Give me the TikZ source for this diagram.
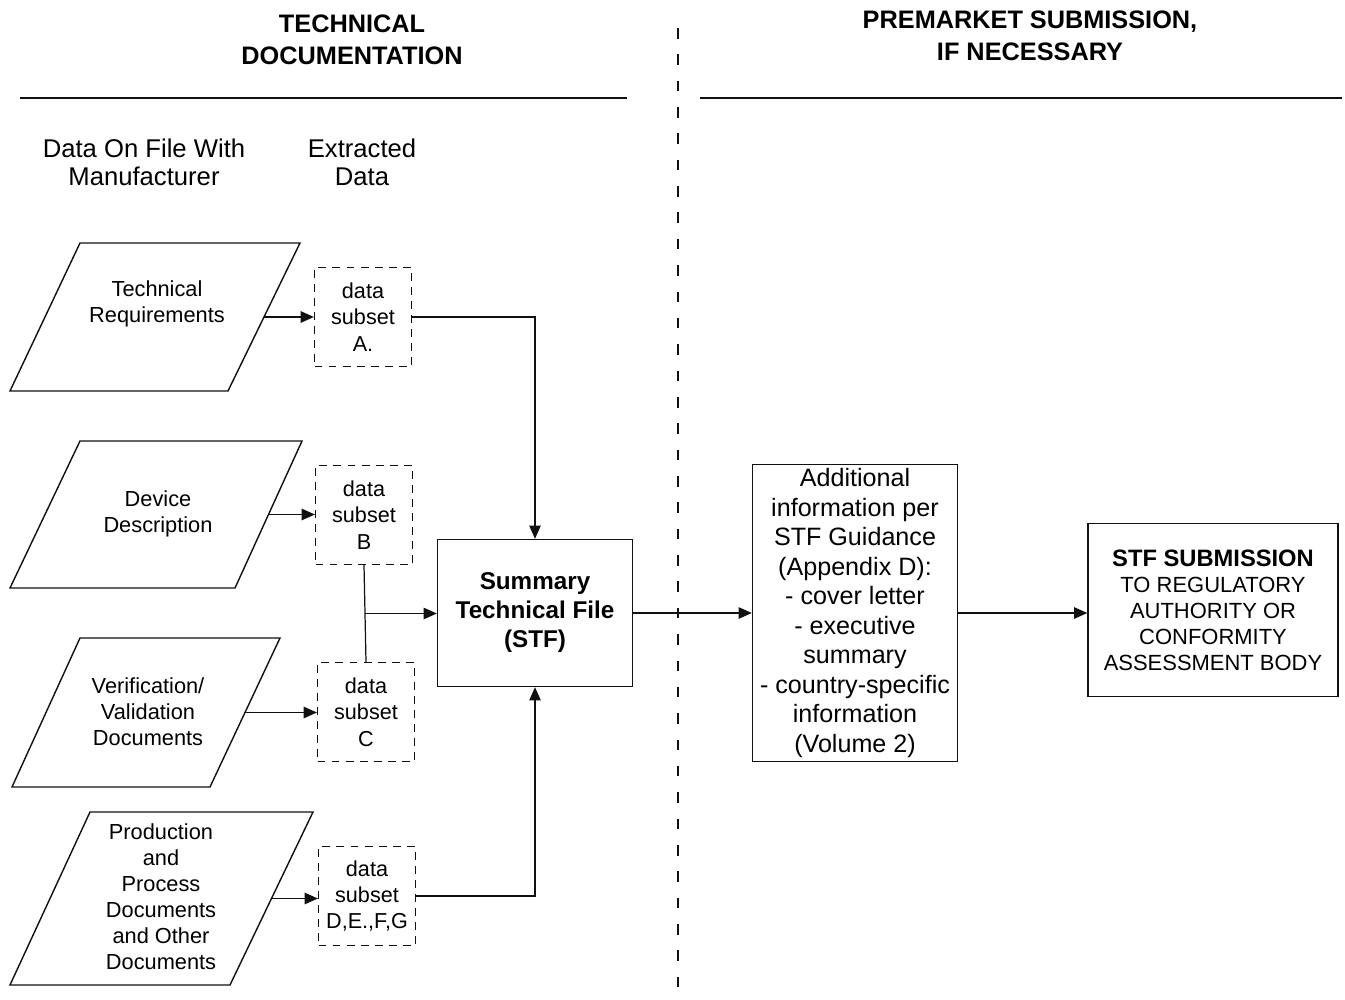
\documentclass[tikz,border=0pt]{standalone}
\usepackage{fontspec}
\setmainfont{Liberation Sans}
\usetikzlibrary{arrows.meta,positioning,calc}
\definecolor{Ink}{HTML}{111111}
\tikzset{
  docshape/.style={draw=Ink,line width=.8pt,line join=miter},
  doctext/.style={align=center,inner sep=0pt,font=\fontsize{12.4}{14.8}\selectfont},
  subset/.style={draw=Ink,dash pattern=on 4.5pt off 3.5pt,line width=.7pt,minimum width=1.94cm,minimum height=1.98cm,align=center,inner sep=0pt,font=\fontsize{12.3}{15}\selectfont},
  stfbox/.style={draw=Ink,line width=.8pt,align=center,inner sep=0pt},
  flow/.style={-{Triangle[length=7.5pt,width=6.5pt]},draw=Ink,line width=.7pt},
  plainline/.style={draw=Ink,line width=.7pt},
  rule/.style={draw=Ink,line width=1.3pt},
  divider/.style={draw=Ink,line width=.6pt,dash pattern=on 6pt off 9pt},
  heading/.style={font=\bfseries\fontsize{14.4}{18.2}\selectfont,align=center},
  colhead/.style={font=\fontsize{14.6}{16}\selectfont,align=center}
}
\begin{document}
\begin{tikzpicture}[x=0.02cm,y=-0.02cm]
  \useasboundingbox (0,0) rectangle (1345,1000);
  % headings and separators
  \node[heading] (techdoc) at (352,40) {TECHNICAL\\DOCUMENTATION};
  \node[heading] (premarket) at (1030,36) {PREMARKET SUBMISSION,\\IF NECESSARY};
  \draw[rule] (20,98) -- (627,98);
  \draw[rule] (700,98) -- (1342,98);
  \draw[divider] (678,28) -- (678,1000);
  \node[colhead] (onfile) at (144,162) {Data On File With\\Manufacturer};
  \node[colhead] (extracted) at (362,162) {Extracted\\Data};
  % documents on file (parallelograms)
  \draw[docshape] (80,243) -- (300,243) coordinate (techreq-tr) -- (228,391) coordinate (techreq-br) -- (10,391) -- cycle;
  \draw[docshape] (80,441) -- (302,441) coordinate (devdesc-tr) -- (235,588) coordinate (devdesc-br) -- (10,588) -- cycle;
  \draw[docshape] (80,638) -- (280,638) coordinate (verif-tr) -- (210,787) coordinate (verif-br) -- (12,787) -- cycle;
  \draw[docshape] (90,812) -- (313,812) coordinate (prod-tr) -- (230,985) coordinate (prod-br) -- (10,985) -- cycle;
  \coordinate (techreq-e) at ($(techreq-tr)!0.5!(techreq-br)$);
  \coordinate (devdesc-e) at ($(devdesc-tr)!0.5!(devdesc-br)$);
  \coordinate (verif-e) at ($(verif-tr)!0.5!(verif-br)$);
  \coordinate (prod-e) at ($(prod-tr)!0.5!(prod-br)$);
  \node[doctext] (techreq) at (157,304) {Technical\\Requirements};
  \node[doctext] (devdesc) at (158,514) {Device\\Description};
  \node[doctext] (verif) at (148,712) {Verification/\\Validation\\Documents};
  \node[doctext] (prod) at (161,897) {Production\\and\\Process\\Documents\\and Other\\Documents};
  % extracted data
  \node[subset] (subA) at (363,317) {data\\subset\\A.};
  \node[subset] (subB) at (364,515) {data\\subset\\B};
  \node[subset] (subC) at (366,712) {data\\subset\\C};
  \node[subset] (subD) at (367,896) {data\\subset\\D,E.,F,G};
  \draw[flow] (techreq-e) -- (techreq-e -| subA.west);
  \draw[flow] (devdesc-e) -- (devdesc-e -| subB.west);
  \draw[flow] (verif-e) -- (verif-e -| subC.west);
  \draw[flow] (prod-e) -- (prod-e -| subD.west);
  % summary technical file
  \node[stfbox,minimum width=3.9cm,minimum height=2.94cm,font=\bfseries\fontsize{13.8}{16.5}\selectfont] (stf) at (535,613) {Summary\\Technical File\\(STF)};
  \draw[flow] (subA.east) -| (stf.north);
  \draw[flow] (subD.east) -| (stf.south);
  \coordinate (joinBC) at ($(subB.south)!0.5!(subC.north)$);
  \draw[plainline] (subB.south) -- (subC.north);
  \draw[flow] (joinBC) -- (joinBC -| stf.west);
  % premarket side
  \node[stfbox,minimum width=4.1cm,minimum height=5.94cm,font=\fontsize{14.3}{16.8}\selectfont] (addinfo) at (855,613) {Additional\\information per\\STF Guidance\\(Appendix D):\\- cover letter\\- executive\\summary\\- country-specific\\information\\(Volume 2)};
  \node[stfbox,minimum width=5cm,minimum height=3.46cm,font=\fontsize{12.5}{14.8}\selectfont] (submit) at (1213,610) {{\bfseries\fontsize{13.5}{15.4}\selectfont STF SUBMISSION}\\TO REGULATORY\\AUTHORITY OR\\CONFORMITY\\ASSESSMENT BODY};
  \draw[flow] (stf.east) -- (addinfo.west);
  \draw[flow] (addinfo.east) -- (addinfo.east -| submit.west);
\end{tikzpicture}
\end{document}
